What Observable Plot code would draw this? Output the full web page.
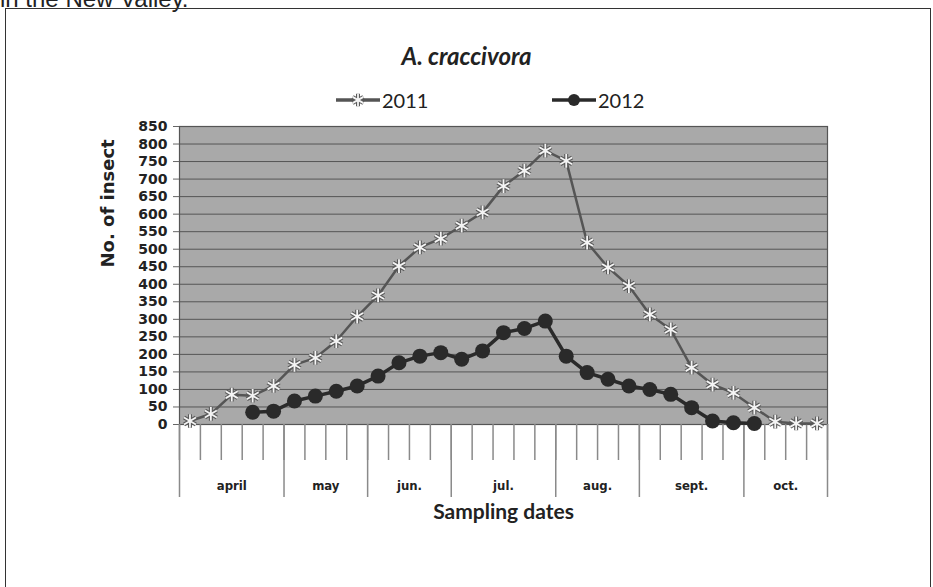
<!DOCTYPE html>
<html>
<head>
<meta charset="utf-8">
<script src="https://cdn.jsdelivr.net/npm/d3@7"></script>
<script src="https://cdn.jsdelivr.net/npm/@observablehq/plot@0.6"></script>
<style>
  html, body { margin: 0; padding: 0; background: #fff; }
  #wrap { position: relative; width: 933px; height: 587px; overflow: hidden; background: #fff; }
  #wrap > svg { position: absolute; left: 0; top: 0; }
  #box { position: absolute; left: 5px; top: 8px; width: 924px; height: 640px; border: 1.5px solid #333; }
  #pagetext { position: absolute; left: 0px; top: -15px; font: 24px "Liberation Sans", Arial, sans-serif; color: #222; white-space: nowrap; }
  .leg { position: absolute; top: 88px; display: flex; align-items: center; font: 20px Lato, "Open Sans", sans-serif; color: #222; }
</style>
</head>
<body>
<div id="wrap">
  <div id="pagetext">in the New Valley.</div>
  <div id="box"></div>
</div>
<script>
// ---- data ----
const months = ["april", "may", "jun.", "jul.", "aug.", "sept.", "oct."];
const datesPerMonth = [5, 4, 4, 5, 4, 5, 4];
const yTicks = [0,50,100,150,200,250,300,350,400,450,500,550,600,650,700,750,800,850];
const series = ["2011", "2012"];
const y2011 = [10, 30, 85, 82, 110, 170, 190, 238, 308, 368, 452, 505, 530, 567, 605, 680, 724, 781, 752, 519, 448, 395, 314, 271, 162, 114, 90, 48, 8, 3, 3];
const y2012 = [null, null, null, 35, 38, 67, 81, 95, 110, 138, 176, 195, 205, 186, 210, 262, 274, 295, 195, 148, 129, 110, 100, 86, 48, 10, 5, 3, null, null, null];

// ---- derived tables ----
const n = y2011.length;
const rows = d3.range(n).map(i => ({pos: i + 0.5, v2011: y2011[i], v2012: y2012[i]}));
const rows2012 = rows.filter(d => d.v2012 != null);
const bounds = [0, ...d3.cumsum(datesPerMonth)];
const mids = months.map((m, k) => (bounds[k] + bounds[k + 1]) / 2);

const col2011 = "#555555";
const col2012 = "#2a2a2a";

const chart = Plot.plot({
  width: 933,
  height: 587,
  marginTop: 126,
  marginBottom: 163,
  marginLeft: 179,
  marginRight: 106,
  style: {fontFamily: "'DejaVu Sans', Verdana, sans-serif", fontSize: "14px", fontWeight: "bold", color: "#222", background: "transparent"},
  x: {domain: [0, n], label: null},
  y: {domain: [0, 850], label: null},
  marks: [
    Plot.frame({fill: "#a9a9a9"}),
    Plot.gridY(yTicks, {stroke: "#3a3a3a", strokeOpacity: 0.75}),
    Plot.frame({stroke: "#555", strokeWidth: 1.2}),
    // y axis
    Plot.axisY({ticks: yTicks, tickSize: 6, tickPadding: 6, stroke: "#666", label: null}),
    // x axis: date ticks, month separators, month names
    Plot.axisX({ticks: d3.range(0, n + 1), tickSize: 36, tickFormat: () => "", stroke: "#8a8a8a", strokeWidth: 1.5, label: null}),
    Plot.axisX({ticks: bounds, tickSize: 73, tickFormat: () => "", stroke: "#8a8a8a", strokeWidth: 1.5, label: null}),
    Plot.axisX({ticks: mids, tickSize: 0, tickPadding: 56, tickFormat: v => months[mids.indexOf(v)], fontSize: 13, fontFamily: "'DejaVu Sans Condensed', 'DejaVu Sans', sans-serif", label: null}),
    // 2011
    Plot.line(rows, {x: "pos", y: "v2011", stroke: col2011, strokeWidth: 2.5}),
    Plot.dot(rows, {x: "pos", y: "v2011", symbol: "asterisk", r: 6.5, stroke: "#5a5a5a", strokeWidth: 4}),
    Plot.dot(rows, {x: "pos", y: "v2011", symbol: "asterisk", r: 6.5, stroke: "#f4f4f4", strokeWidth: 1.8}),
    // 2012
    Plot.line(rows2012, {x: "pos", y: "v2012", stroke: col2012, strokeWidth: 3.5}),
    Plot.dot(rows2012, {x: "pos", y: "v2012", r: 7.5, fill: col2012}),
    // titles
    Plot.text(["A. craccivora"], {text: d => d, frameAnchor: "top", dx: -37, dy: -79, fontSize: 24, fontStyle: "italic", fontWeight: "bold", fontFamily: "Lato, 'Open Sans', sans-serif", fill: "#222"}),
    Plot.text(["No. of insect"], {text: d => d, frameAnchor: "left", rotate: -90, dx: -71, dy: -8, fontSize: 18, fontWeight: "bold", fill: "#222"}),
    Plot.text(["Sampling dates"], {text: d => d, frameAnchor: "bottom", dy: 94, fontSize: 21, fontWeight: "bold", fontFamily: "Lato, 'Open Sans', sans-serif", fill: "#222"})
  ]
});
const wrap = document.getElementById("wrap");
wrap.insertBefore(chart, document.getElementById("box"));

// legend
function legendItem(label, left, kind) {
  const div = document.createElement("div");
  div.className = "leg";
  div.style.left = left + "px";
  const ns = "http://www.w3.org/2000/svg";
  const svg = document.createElementNS(ns, "svg");
  svg.setAttribute("width", 48); svg.setAttribute("height", 24);
  const line = document.createElementNS(ns, "line");
  line.setAttribute("x1", 2); line.setAttribute("x2", 46); line.setAttribute("y1", 12); line.setAttribute("y2", 12);
  line.setAttribute("stroke", kind === "a" ? col2011 : col2012); line.setAttribute("stroke-width", 3.5);
  svg.appendChild(line);
  if (kind === "a") {
    const sym = d3.symbol(d3.symbolAsterisk, 110)();
    for (const [st, w] of [["#5a5a5a", 4], ["#f4f4f4", 1.8]]) {
      const p = document.createElementNS(ns, "path");
      p.setAttribute("d", sym); p.setAttribute("transform", "translate(24,12)");
      p.setAttribute("stroke", st); p.setAttribute("stroke-width", w); p.setAttribute("fill", "none");
      svg.appendChild(p);
    }
  } else {
    const c = document.createElementNS(ns, "circle");
    c.setAttribute("cx", 24); c.setAttribute("cy", 12); c.setAttribute("r", 6); c.setAttribute("fill", col2012);
    svg.appendChild(c);
  }
  div.appendChild(svg);
  const t = document.createElement("span");
  t.textContent = label;
  div.appendChild(t);
  wrap.appendChild(div);
}
legendItem(series[0], 334, "a");
legendItem(series[1], 550, "b");
</script>
</body>
</html>
